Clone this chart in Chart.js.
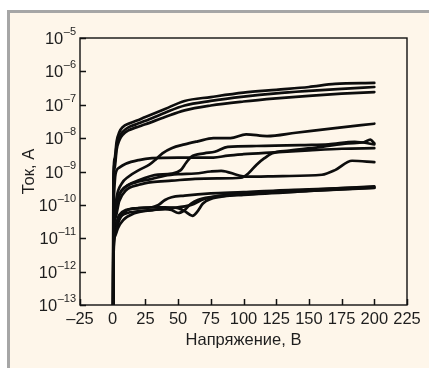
<!DOCTYPE html>
<html><head><meta charset="utf-8">
<script src="https://cdn.jsdelivr.net/npm/chart.js@4"></script>
<style>
html,body{margin:0;padding:0;background:#fff;width:429px;height:368px;overflow:hidden;}
#panel{position:absolute;left:7px;top:10px;width:422px;height:358px;box-sizing:border-box;border-top:3px solid #a6a6a6;border-left:3px solid #a6a6a6;background:#fef6ea;}
#wrap{position:absolute;left:0;top:0;width:429px;height:368px;}
</style></head>
<body>
<div id="panel"></div>
<div id="wrap"><canvas id="c" width="429" height="368"></canvas></div>
<script>
// X axis ticks (volts) and Y axis ticks (amperes)
const xTicks = [-25, 0, 25, 50, 75, 100, 125, 150, 175, 200, 225];
const yTicks = [1e-13, 1e-12, 1e-11, 1e-10, 1e-9, 1e-8, 1e-7, 1e-6, 1e-5];

// Curves: voltage (V) and current (A)
const vA = [0.4, 0.5, 1.5, 3, 5, 8, 12, 18, 25, 40, 55, 75, 100, 125, 150, 170, 200];
const iA = [1e-13, 5e-10, 2.5e-9, 8e-9, 1.5e-8, 2.2e-8, 2.7e-8, 3.3e-8, 4.3e-8, 7.5e-8, 1.3e-7, 1.7e-7, 2.3e-7, 2.8e-7, 3.4e-7, 4.2e-7, 4.5e-7];
const vB = [0.4, 0.5, 1.5, 3, 5, 8, 12, 18, 25, 40, 55, 75, 100, 125, 150, 175, 200];
const iB = [1e-13, 3e-10, 1.8e-9, 6e-9, 1.1e-8, 1.6e-8, 2.1e-8, 2.6e-8, 3.3e-8, 5.8e-8, 9.5e-8, 1.3e-7, 1.75e-7, 2.2e-7, 2.6e-7, 3e-7, 3.4e-7];
const vC = [0.4, 0.5, 1.5, 3, 5, 8, 12, 18, 25, 40, 55, 75, 100, 125, 150, 175, 200];
const iC = [1e-13, 2e-10, 1.3e-9, 4.5e-9, 8.5e-9, 1.3e-8, 1.7e-8, 2.1e-8, 2.6e-8, 4.3e-8, 6.8e-8, 9.5e-8, 1.25e-7, 1.55e-7, 1.85e-7, 2.15e-7, 2.4e-7];
const vD = [0.4, 0.5, 1.5, 3, 7, 12, 20, 28, 33, 38, 45, 55, 65, 77, 90, 102, 118, 140, 170, 200];
const iD = [1e-13, 8e-12, 5e-11, 1.7e-10, 4.4e-10, 7e-10, 1.1e-9, 1.6e-9, 2.3e-9, 3.5e-9, 5e-9, 6.5e-9, 8e-9, 1e-8, 1e-8, 1.3e-8, 1.15e-8, 1.45e-8, 2e-8, 2.7e-8];
const vE = [0.4, 0.5, 1, 2.2, 5, 10, 20, 30, 50, 77, 88, 100, 120, 150, 175, 200];
const iE = [1e-13, 1.5e-11, 2e-10, 8.5e-10, 1.3e-9, 1.7e-9, 2.2e-9, 2.5e-9, 2.6e-9, 2.6e-9, 3e-9, 3.3e-9, 3.7e-9, 4.3e-9, 4.8e-9, 5e-9];
const vF = [0.4, 0.5, 2, 4, 7, 12, 20, 32, 45, 52, 56, 60, 70, 78, 88, 110, 147, 165, 185, 200];
const iF = [1e-13, 8e-12, 5e-11, 1.5e-10, 2.75e-10, 4e-10, 5.5e-10, 7.8e-10, 8.7e-10, 1.1e-9, 1.8e-9, 2.75e-9, 3.5e-9, 3.9e-9, 5.5e-9, 5.8e-9, 6.2e-9, 6.5e-9, 7.8e-9, 6.5e-9];
const vG = [0.4, 0.5, 2, 5, 10, 20, 30, 45, 63, 80, 98, 104, 110, 116, 122, 135, 160, 180, 192, 197, 200];
const iG = [1e-13, 6e-12, 4e-11, 1.3e-10, 2.7e-10, 4e-10, 4.8e-10, 5.3e-10, 6e-10, 6.2e-10, 6.5e-10, 9e-10, 1.6e-9, 2.5e-9, 3.5e-9, 4.2e-9, 5.5e-9, 7e-9, 7.5e-9, 9e-9, 7e-9];
const vH = [0.4, 0.5, 2, 5, 10, 20, 30, 40, 50, 63, 75, 83, 96, 101, 130, 160, 170, 183, 200];
const iH = [1e-13, 1e-11, 7e-11, 2e-10, 3.5e-10, 5e-10, 6e-10, 7.5e-10, 8.3e-10, 8.7e-10, 1e-9, 1.05e-9, 7.7e-10, 7e-10, 7.3e-10, 8e-10, 1.1e-9, 2.1e-9, 1.9e-9];
const vJ = [0.4, 0.5, 2, 5, 10, 20, 30, 35, 40, 45, 55, 75, 100, 125, 150, 175, 200];
const iJ = [1e-13, 5e-12, 2.5e-11, 5e-11, 7e-11, 8e-11, 8.5e-11, 1e-10, 1.4e-10, 1.7e-10, 1.9e-10, 2.2e-10, 2.4e-10, 2.7e-10, 2.9e-10, 3.2e-10, 3.4e-10];
const vK = [0.4, 0.5, 2, 5, 10, 20, 30, 40, 45, 50, 55, 60, 65, 75, 100, 150, 200];
const iK = [1e-13, 4e-12, 2e-11, 4e-11, 5.5e-11, 6.5e-11, 7e-11, 7.5e-11, 7e-11, 5.7e-11, 7e-11, 1.1e-10, 1.4e-10, 1.7e-10, 2.1e-10, 2.6e-10, 3.2e-10];
const vL = [0.4, 0.5, 2, 5, 10, 20, 30, 40, 50, 55, 61, 65, 69, 75, 85, 100, 150, 200];
const iL = [1e-13, 3e-12, 1.5e-11, 3.5e-11, 6.5e-11, 8e-11, 8.5e-11, 8.5e-11, 8e-11, 6.5e-11, 4.7e-11, 6.5e-11, 1.1e-10, 1.5e-10, 1.8e-10, 2e-10, 2.6e-10, 3.3e-10];
const vM = [0.4, 0.5, 2, 4, 8, 16, 30, 45, 60, 70, 100, 150, 200];
const iM = [1e-13, 2e-12, 1.2e-11, 2e-11, 3.5e-11, 5.5e-11, 7e-11, 8e-11, 1e-10, 1.5e-10, 2.2e-10, 2.8e-10, 3.6e-10];

const curves = [[vA,iA],[vB,iB],[vC,iC],[vD,iD],[vE,iE],[vF,iF],[vG,iG],[vH,iH],[vJ,iJ],[vK,iK],[vL,iL],[vM,iM]];

const FONT = "'Liberation Sans', Arial, sans-serif";
const TXT = '#1e1e1e';
const FS = 16.5;

const frame = {
  id: 'frame',
  afterDatasetsDraw(chart) {
    const {ctx, chartArea: a, scales} = chart;
    ctx.save();
    ctx.strokeStyle = '#111';
    ctx.lineWidth = 1.5;
    ctx.beginPath();
    scales.x.ticks.forEach((t, i) => {
      const px = Math.round(scales.x.getPixelForTick(i)) + 0.5;
      ctx.moveTo(px, a.bottom); ctx.lineTo(px, a.bottom - 6);
    });
    scales.y.ticks.forEach((t, i) => {
      const py = Math.round(scales.y.getPixelForTick(i)) + 0.5;
      ctx.moveTo(a.left, py); ctx.lineTo(a.left + 6, py);
    });
    ctx.stroke();
    ctx.lineWidth = 1.4;
    ctx.strokeRect(a.left, a.top, a.right - a.left, a.bottom - a.top);
    // y tick labels: 10 with superscript exponent
    ctx.fillStyle = TXT;
    ctx.textBaseline = 'alphabetic';
    const right = a.left - 4;
    scales.y.ticks.forEach((t, i) => {
      const py = scales.y.getPixelForTick(i);
      const e = Math.round(Math.log10(t.value));
      const expStr = (e < 0 ? '\u2013' : '') + Math.abs(e);
      ctx.font = '11px ' + FONT;
      const ew = ctx.measureText(expStr).width;
      ctx.textAlign = 'left';
      ctx.fillText(expStr, right - ew, py - 3);
      ctx.font = FS + 'px ' + FONT;
      ctx.textAlign = 'right';
      ctx.fillText('10', right - ew - 0.5, py + 6);
    });
    ctx.restore();
  }
};

new Chart(document.getElementById('c'), {
  type: 'line',
  data: {
    datasets: curves.map(([v, i]) => ({
      data: v.map((x, k) => ({x: x, y: i[k]})),
      borderColor: '#0d0d0d',
      borderWidth: 2.7,
      pointRadius: 0,
      fill: false,
      cubicInterpolationMode: 'monotone',
      borderCapStyle: 'round',
      borderJoinStyle: 'round'
    }))
  },
  options: {
    responsive: false,
    animation: false,
    devicePixelRatio: 1,
    layout: {padding: {left: 0, top: 38, right: 22, bottom: 0}},
    plugins: {legend: {display: false}, tooltip: {enabled: false}},
    scales: {
      x: {
        type: 'linear', min: -25, max: 225,
        afterBuildTicks: s => { s.ticks = xTicks.map(v => ({value: v})); },
        afterFit: s => { s.height = 63; },
        grid: {display: false, drawTicks: false, tickLength: 0},
        border: {display: false},
        ticks: {
          autoSkip: false, maxRotation: 0, padding: 5, color: TXT,
          font: {family: FONT, size: FS},
          callback: v => v < 0 ? '\u2013' + Math.abs(v) : String(v)
        },
        title: {display: true, text: 'Напряжение, В', color: TXT, font: {family: FONT, size: FS}, padding: {top: 0, bottom: 18}}
      },
      y: {
        type: 'logarithmic', min: 1e-13, max: 1e-5,
        afterBuildTicks: s => { s.ticks = yTicks.map(v => ({value: v})); },
        afterFit: s => { s.width = 80; },
        grid: {display: false, drawTicks: false, tickLength: 0},
        border: {display: false},
        ticks: {display: false},
        title: {display: true, text: 'Ток, А', color: TXT, font: {family: FONT, size: FS}, padding: {top: 20, bottom: 0}}
      }
    }
  },
  plugins: [frame]
});
</script>
</body></html>
